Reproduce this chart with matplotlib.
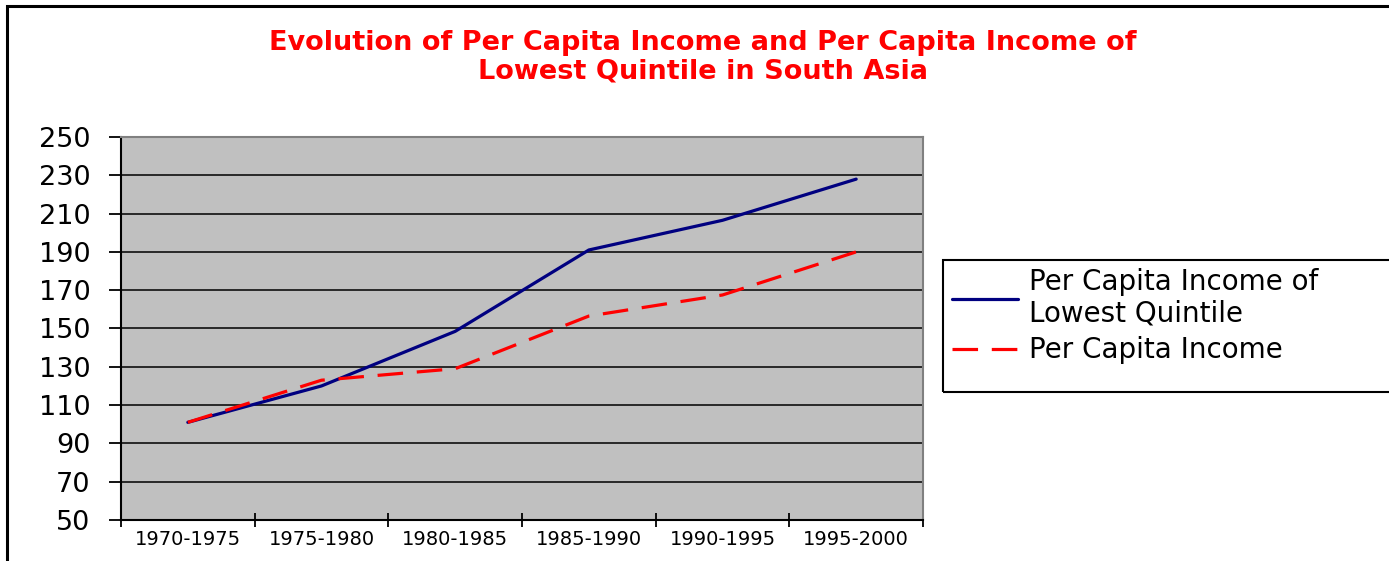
import matplotlib

matplotlib.use("Agg")
import matplotlib.pyplot as plt
from matplotlib.patches import Rectangle

# values
periods = ["1970-1975", "1975-1980", "1980-1985", "1985-1990", "1990-1995", "1995-2000"]
lowest_quintile = [101, 120, 148.5, 191, 206.5, 228]
per_capita = [101, 123, 129, 156.5, 167.5, 190]
y_ticks = list(range(50, 251, 20))

NAVY = "#000080"
RED = "#FF0000"
PLOT_BG = "#C0C0C0"
W, H = 1389, 561

plt.rcParams["font.family"] = ["DejaVu Sans"]

fig = plt.figure(figsize=(W / 100, H / 100), dpi=100)
ax = fig.add_axes([121 / W, 41 / H, 802 / W, 383 / H])
ax.set_facecolor(PLOT_BG)

x = range(len(periods))
ax.plot(x, lowest_quintile, color=NAVY, lw=2.3, label="Per Capita Income of\nLowest Quintile",
        zorder=3, solid_capstyle="round")
ax.plot(x, per_capita, color=RED, lw=2.3, dashes=(8, 4.3), label="Per Capita Income", zorder=4)

ax.set_xlim(-0.5, len(periods) - 0.5)
ax.set_ylim(y_ticks[0], y_ticks[-1])
ax.set_yticks(y_ticks)
ax.yaxis.grid(True, color="black", lw=1.1)
ax.set_axisbelow(True)

# category boundaries carry the ticks, centres carry the labels
ax.set_xticks([i - 0.5 for i in range(len(periods) + 1)])
ax.set_xticklabels([])
ax.set_xticks(list(x), minor=True)
ax.set_xticklabels(periods, minor=True, fontsize=14)
ax.tick_params(axis="x", which="major", direction="inout", length=10, width=1.3)
ax.tick_params(axis="x", which="minor", length=0, pad=7)
ax.tick_params(axis="y", direction="out", length=9, width=1.3, pad=13, labelsize=19.5)

for side in ("left", "bottom"):
    ax.spines[side].set_color("black")
    ax.spines[side].set_linewidth(1.5)
for side in ("top", "right"):
    ax.spines[side].set_color("#808080")
    ax.spines[side].set_linewidth(1.5)

fig.text(0.506, 1 - 57 / H, "Evolution of Per Capita Income and Per Capita Income of\n"
         "Lowest Quintile in South Asia", ha="center", va="center", color=RED,
         fontsize=19.5, fontweight="bold", linespacing=1.12)

# legend entries without their own frame; the box is drawn separately because it
# runs off the right edge and has extra room below the entries
fig.legend(loc="upper left", bbox_to_anchor=(946 / W, 1 - 262 / H),
           fontsize=20, frameon=False, handlelength=2.4, handletextpad=0.4,
           borderpad=0.2, labelspacing=0.3, borderaxespad=0)
fig.add_artist(Rectangle((943 / W, 1 - 392 / H), 0.5, 132 / H, fill=False,
                         edgecolor="black", lw=1.5, transform=fig.transFigure))

# outer chart border, cut off at right and bottom in the source
fig.add_artist(Rectangle((7 / W, -0.05), 1.2, 1 - 6 / H + 0.05, fill=False,
                         edgecolor="black", lw=2.2, transform=fig.transFigure))

fig.savefig("out.png", dpi=100)
